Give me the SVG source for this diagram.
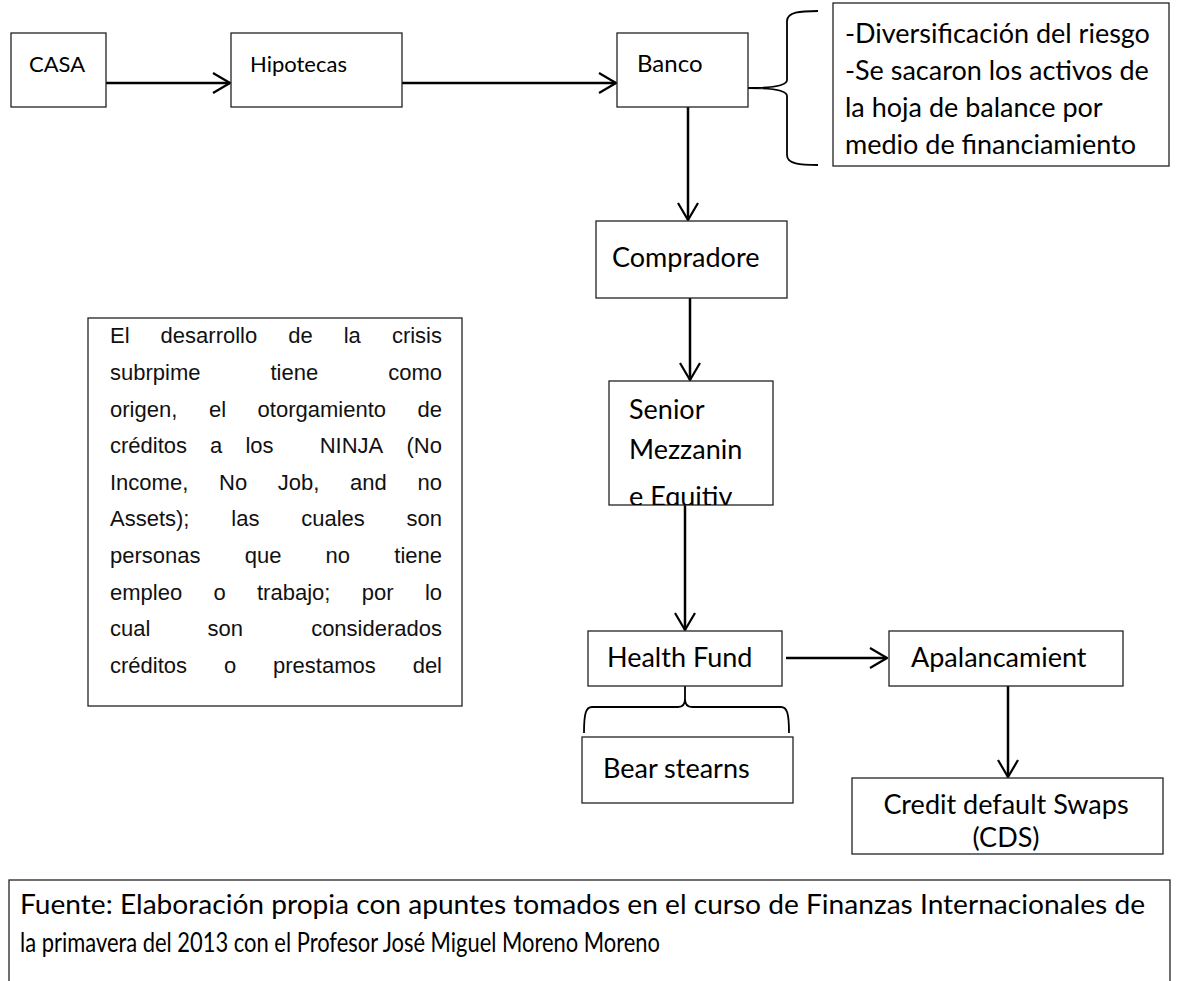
<svg xmlns="http://www.w3.org/2000/svg" width="1181" height="981" viewBox="0 0 1181 981">
<style>
.box{fill:#fff;stroke:#222;stroke-width:1.3}
.lbl{font-family:Lato,"Open Sans",sans-serif;font-size:22px;fill:#000}
.big{font-size:27px}
.para{font-family:"Liberation Sans",Arial,sans-serif;font-size:22px;fill:#111}
.foot{font-family:Lato,"Open Sans",sans-serif;font-size:26px;fill:#000}
.con{fill:none;stroke:#000;stroke-width:2.5}
.brace{fill:none;stroke:#000;stroke-width:1.8}
</style>
<defs>
<marker id="arr" viewBox="0 0 20 24" refX="19" refY="12" markerWidth="20" markerHeight="24" markerUnits="userSpaceOnUse" orient="auto">
<path d="M2,2 L19,12 L2,22" fill="none" stroke="#000" stroke-width="2.2"/>
</marker>
<clipPath id="clipSenior"><rect x="609" y="381" width="164" height="124"/></clipPath>
</defs>
<rect width="1181" height="981" fill="#fff"/>
<g id="connectors">
<line class="con" x1="106" y1="83" x2="230" y2="83" marker-end="url(#arr)"/>
<line class="con" x1="402" y1="83" x2="616" y2="83" marker-end="url(#arr)"/>
<line class="con" x1="688" y1="107" x2="688" y2="220" marker-end="url(#arr)"/>
<line class="con" x1="690" y1="298" x2="690" y2="380" marker-end="url(#arr)"/>
<line class="con" x1="685" y1="505" x2="685" y2="630" marker-end="url(#arr)"/>
<line class="con" x1="786" y1="658" x2="887" y2="658" marker-end="url(#arr)"/>
<line class="con" x1="1008" y1="686" x2="1008" y2="777" marker-end="url(#arr)"/>
<path class="brace" d="M818,11 C800,11 787,12 787,21 L787,80 C787,86 772,88 748,88 C772,88 787,90 787,96 L787,155 C787,164 800,165 818,165"/>
<path class="brace" d="M685,686 L685,699 C685,704 683,707 678,707 L592,707 C586,707 584,713 584,733 M685,699 C685,704 687,707 692,707 L781,707 C787,707 789,713 789,733"/>
</g>
<g id="n-casa"><rect class="box" x="11" y="33" width="95" height="74"/><text class="lbl" x="29" y="72">CASA</text></g>
<g id="n-hipotecas"><rect class="box" x="231" y="33" width="171" height="74"/><text class="lbl" x="250" y="72">Hipotecas</text></g>
<g id="n-banco"><rect class="box" x="617" y="33" width="131" height="74"/><text class="lbl" x="637" y="72" style="font-size:24px">Banco</text></g>
<g id="n-nota"><rect class="box" x="833" y="3" width="336" height="163"/>
<text class="lbl big" x="845" y="43">-Diversificación del riesgo</text>
<text class="lbl big" x="845" y="80">-Se sacaron los activos de</text>
<text class="lbl big" x="845" y="117">la hoja de balance  por</text>
<text class="lbl big" x="845" y="154">medio de financiamiento</text></g>
<g id="n-compradore"><rect class="box" x="596" y="221" width="191" height="77"/><text class="lbl big" x="612" y="267">Compradore</text></g>
<g id="n-senior"><rect class="box" x="609" y="381" width="164" height="124"/>
<g clip-path="url(#clipSenior)">
<text class="lbl big" x="629" y="419">Senior</text>
<text class="lbl big" x="629" y="459">Mezzanin</text>
<text class="lbl big" x="629" y="506">e Equitiv</text></g></g>
<g id="n-texto"><rect class="box" x="88" y="318" width="374" height="388"/>
<text class="para" y="343"><tspan x="110">El</tspan><tspan x="160.6">desarrollo</tspan><tspan x="288.2">de</tspan><tspan x="343.7">la</tspan><tspan x="442" text-anchor="end">crisis</tspan></text>
<text class="para" y="380"><tspan x="110">subrpime</tspan><tspan x="270.5">tiene</tspan><tspan x="442" text-anchor="end">como</tspan></text>
<text class="para" y="417"><tspan x="110">origen,</tspan><tspan x="208.9">el</tspan><tspan x="257.6">otorgamiento</tspan><tspan x="442" text-anchor="end">de</tspan></text>
<text class="para" y="453"><tspan x="110">créditos</tspan><tspan x="210.1">a</tspan><tspan x="245.4">los</tspan><tspan x="319.7">NINJA</tspan><tspan x="442" text-anchor="end">(No</tspan></text>
<text class="para" y="490"><tspan x="110">Income,</tspan><tspan x="219">No</tspan><tspan x="277.8">Job,</tspan><tspan x="350.1">and</tspan><tspan x="442" text-anchor="end">no</tspan></text>
<text class="para" y="526"><tspan x="110">Assets);</tspan><tspan x="231.3">las</tspan><tspan x="301.2">cuales</tspan><tspan x="442" text-anchor="end">son</tspan></text>
<text class="para" y="563"><tspan x="110">personas</tspan><tspan x="244.7">que</tspan><tspan x="325.6">no</tspan><tspan x="442" text-anchor="end">tiene</tspan></text>
<text class="para" y="600"><tspan x="110">empleo</tspan><tspan x="213.5">o</tspan><tspan x="257">trabajo;</tspan><tspan x="361.8">por</tspan><tspan x="442" text-anchor="end">lo</tspan></text>
<text class="para" y="636"><tspan x="110">cual</tspan><tspan x="207.5">son</tspan><tspan x="442" text-anchor="end">considerados</tspan></text>
<text class="para" y="673"><tspan x="110">créditos</tspan><tspan x="223.9">o</tspan><tspan x="273">prestamos</tspan><tspan x="442" text-anchor="end">del</tspan></text>
</g>
<g id="n-health"><rect class="box" x="588" y="631" width="194" height="55"/><text class="lbl big" x="607" y="667">Health Fund</text></g>
<g id="n-apalanca"><rect class="box" x="889" y="631" width="234" height="55"/><text class="lbl big" x="911" y="667">Apalancamient</text></g>
<g id="n-bear"><rect class="box" x="582" y="737" width="211" height="66"/><text class="lbl big" x="603" y="778">Bear stearns</text></g>
<g id="n-cds"><rect class="box" x="852" y="778" width="311" height="76"/>
<text class="lbl big" x="1006" y="814" text-anchor="middle">Credit default Swaps</text>
<text class="lbl big" x="1006" y="847" text-anchor="middle">(CDS)</text></g>
<g id="n-fuente"><rect class="box" x="9" y="880" width="1161" height="110"/>
<text class="foot" x="20" y="914" textLength="1125" lengthAdjust="spacingAndGlyphs">Fuente: Elaboración propia con apuntes tomados en el curso de Finanzas Internacionales de</text>
<text class="foot" x="20" y="952" textLength="640" lengthAdjust="spacingAndGlyphs">la primavera del 2013 con el Profesor José Miguel Moreno Moreno</text></g>
</svg>
